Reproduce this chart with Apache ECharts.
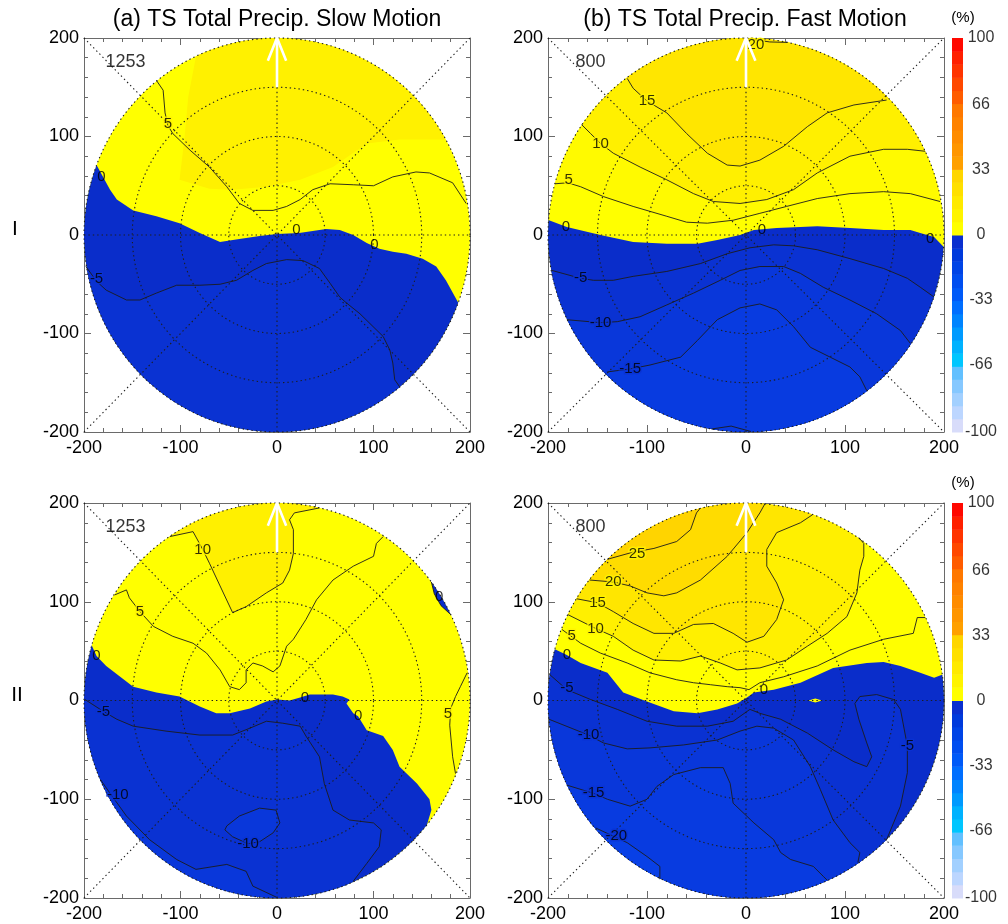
<!DOCTYPE html>
<html><head><meta charset="utf-8">
<script src="https://cdn.jsdelivr.net/npm/echarts@6/dist/echarts.min.js"></script>
<style>html,body{margin:0;padding:0;background:#fff}#c{width:1008px;height:924px}</style>
</head><body><div id="c"></div>
<script>
// ---------------- DATA ----------------
const axisTicks = [-200, -100, 0, 100, 200];
const ringRadii = [50, 100, 150, 200];
const cbTicks = [-100, -66, -33, 0, 33, 66, 100];
const cbEdges = [-100,-93.3,-86.7,-80,-73.3,-66.7,-60,-53.3,-46.7,-40,-33.3,-26.7,-20,-13.3,-6.7,0,6.7,13.3,20,26.7,33.3,40,46.7,53.3,60,66.7,73.3,80,86.7,93.3,100];
const cbColors = ['#d8dcfa','#bcd6ff','#a2d0ff','#86c8ff','#62c0ff',
                  '#00c6ff','#00b2ff','#009aff','#0084ff','#006eff',
                  '#005af8','#004ef0','#0044e6','#003adc','#0a2fcf',
                  '#ffff00','#fff400','#ffea00','#ffe000','#ffd600',
                  '#ffa000','#ff9600','#ff8c00','#ff8200','#ff7800',
                  '#ff5c00','#ff4800','#ff3400','#ff2000','#ff0800'];
const titles = ['(a) TS Total Precip. Slow Motion', '(b) TS Total Precip. Fast Motion'];
const rowNames = ['I', 'II'];
const stormCounts = ['1253', '800', '1253', '800'];
const countPos = [-157, 176];
const arrowShaft = [[0, 150], [0, 200]];
const arrowHead = [[-9.5, 177], [0, 200], [9.5, 177]];

// Panel I(a) slow motion
const IaZero = [[-187,71],[-173,46],[-166,36],[-149,25],[-125,19],[-101,12],[-80,2],[-59,-7],[-39,-4],[-18,-1],[0,1],[23,2],[51,6],[65,5],[79,0],[93,-8],[106,-14],[120,-17],[134,-19],[151,-24],[165,-32],[175,-46],[188,-69]];
const IaPos5 = [[-125,157],[-118,147],[-116,124],[-113,111],[-108,103],[-90,86],[-70,69],[-52,49],[-39,32],[-25,25],[-4,25],[10,29],[24,36],[37,46],[55,52],[79,51],[100,50],[120,59],[144,64],[158,63],[182,53],[196,32]];
const IaNeg5 = [[-198,-32],[-187,-47],[-177,-56],[-156,-66],[-142,-66],[-125,-59],[-104,-51],[-80,-51],[-59,-50],[-42,-46],[-25,-36],[-11,-29],[10,-25],[27,-26],[44,-34],[55,-49],[65,-63],[72,-69],[86,-80],[110,-103],[117,-117],[120,-130],[122,-147],[127,-154]];
const IaWarm = [[-84,181],[-92,140],[-96,97],[-101,56],[-70,47],[-46,46],[-11,49],[24,56],[58,69],[93,93],[127,97],[162,97],[175,97]];
const IaLabels = [['5',-113,113],['0',-182,59],['0',20,5],['0',101,-10],['-5',-187,-45]];

// Panel I(b) fast motion
const IbZero = [[-199,15],[-181,8],[-147,0],[-114,-7],[-80,-9],[-49,-9],[-29,-5],[-6,0],[8,5],[31,7],[55,8],[72,9],[105,7],[139,5],[166,5],[176,2],[190,-2],[199.5,-12]];
const IbPos5 = [[-193,52],[-180,53],[-167,49],[-144,39],[-114,29],[-80,19],[-60,13],[-39,12],[-13,15],[14,22],[41,29],[72,37],[105,42],[139,44],[166,42],[196,34]];
const IbPos10 = [[-166,112],[-157,103],[-147,93],[-134,83],[-107,69],[-80,56],[-53,42],[-33,34],[-6,32],[21,36],[48,46],[72,63],[105,80],[139,87],[163,87],[181,85]];
const IbPos15 = [[-120,159],[-114,149],[-100,136],[-80,124],[-60,103],[-39,83],[-19,71],[-6,70],[14,76],[38,90],[62,110],[82,124],[109,132],[142,137]];
const IbPos20 = [[-2,199.9],[24,196],[42,195.5]];
const IbNeg5 = [[-196,-36],[-167,-44],[-154,-46],[-134,-46],[-114,-42],[-80,-37],[-46,-29],[-19,-19],[4,-13],[28,-10],[48,-11],[72,-15],[105,-24],[139,-34],[163,-44],[176,-53],[190,-63]];
const IbNeg10 = [[-181,-86],[-147,-89],[-130,-88],[-107,-83],[-80,-71],[-53,-59],[-26,-46],[-6,-36],[14,-32],[38,-32],[55,-39],[78,-53],[105,-66],[132,-80],[156,-97],[166,-110]];
const IbNeg15 = [[-140,-139],[-117,-136],[-97,-132],[-66,-124],[-49,-107],[-29,-86],[-6,-74],[14,-70],[31,-76],[48,-93],[65,-114],[85,-124],[105,-134],[115,-144],[122,-158]];
const IbNeg20 = [[-35,-197],[-15,-194],[5,-199.5]];
const IbLabels = [['0',-182,8],['0',16,5],['0',186,-4],['5',-179,56],['10',-147,93],['15',-100,136],['20',10,193],['-5',-167,-44],['-10',-147,-89],['-15',-117,-136]];

// Panel II(a) slow motion
const IIaZero = [[-192,56],[-187,45],[-177,35],[-149,14],[-125,8],[-101,4],[-80,-6],[-63,-13],[-49,-13],[-28,-8],[-11,-1],[0,1],[13,0],[24,3],[34,6],[58,6],[68,4],[75,1],[72,-3],[79,-13],[84,-16],[93,-30],[110,-36],[120,-50],[127,-67],[145,-84],[158,-100],[160,-111],[155,-127]];
const IIaSliver = [[160,120],[163,108],[170,96],[180,87]];
const IIaPos5 = [[-168,107],[-156,112],[-153,104],[-142,90],[-128,75],[-108,65],[-87,58],[-73,48],[-59,31],[-49,14],[-39,11],[-32,18],[-32,31],[-25,38],[-15,35],[-4,29],[3,35],[10,55],[17,62],[30,82],[41,102],[58,122],[79,136],[100,146],[103,159],[110,166]];
const IIaPos5b = [[197,28],[190,14],[185,4],[180,-8],[179,-25],[182,-57],[185,-74]];
const IIaPos10 = [[-111,166],[-87,171],[-77,153],[-70,139],[-59,116],[-46,89],[-32,95],[-11,109],[6,119],[13,132],[17,149],[17,173],[13,183],[18,190],[44,195]];
const IIaNeg5 = [[-199,1],[-180,-11],[-166,-19],[-149,-26],[-115,-31],[-80,-35],[-46,-35],[-28,-28],[-11,-21],[6,-23],[24,-26],[30,-36],[44,-57],[49,-84],[58,-111],[75,-121],[100,-124],[108,-131],[106,-148],[93,-165],[79,-183]];
const IIaNeg10 = [[-183,-80],[-173,-94],[-156,-117],[-132,-141],[-104,-161],[-84,-171],[-52,-166],[-32,-173],[-25,-188],[-1,-199]];
const IIaNeg10b = [[-52,-127],[-39,-117],[-18,-109],[-1,-111],[3,-124],[-4,-134],[-18,-143],[-30,-145],[-46,-138],[-54,-131],[-52,-127]];
const IIaLabels = [['10',-77,153],['5',-142,90],['0',-187,45],['0',29,3],['0',84,-16],['0',168,105],['5',177,-14],['-5',-180,-11],['-10',-165,-96],['-10',-30,-145]];

// Panel II(b) fast motion
const IIbZero = [[-193,52],[-181,46],[-167,38],[-140,28],[-124,8],[-100,-1],[-73,-11],[-49,-13],[-29,-9],[-9,-3],[1,3],[8,8],[28,11],[55,18],[88,33],[122,38],[139,39],[156,35],[176,28],[190,23],[198,26]];
const IIbBlob = [[63,0],[70,2],[77,0],[70,-2]];
const IIbPos5 = [[-186,72],[-167,58],[-147,48],[-120,38],[-97,28],[-70,21],[-53,18],[-36,16],[-19,14],[-6,13],[3,11],[14,18],[38,24],[72,35],[105,51],[139,62],[169,68],[173,84],[181,84]];
const IIbPos10 = [[-180,87],[-152,73],[-134,65],[-114,51],[-93,41],[-66,40],[-46,45],[-26,38],[-9,31],[14,33],[41,41],[62,55],[82,68],[102,85],[112,109],[115,132],[119,146],[119,159],[114,165]];
const IIbPos15 = [[-171,103],[-150,99],[-134,90],[-114,78],[-93,68],[-73,68],[-53,77],[-33,78],[-13,68],[1,59],[18,65],[31,82],[38,102],[31,119],[21,136],[21,153],[31,170],[55,180],[67,188]];
const IIbPos20 = [[-158,122],[-134,120],[-117,116],[-100,109],[-83,106],[-70,109],[-46,122],[-19,146],[1,170],[14,190],[19,199]];
const IIbPos25 = [[-140,143],[-115,150],[-93,154],[-70,161],[-56,173],[-50,190],[-46,195]];
const IIbNeg5 = [[-198,26],[-181,11],[-157,1],[-130,-9],[-100,-21],[-70,-26],[-39,-26],[-13,-21],[4,-9],[14,-13],[35,-19],[62,-33],[88,-50],[109,-62],[122,-67],[127,-57],[122,-43],[114,-19],[110,-3],[115,4],[132,6],[149,1],[156,-9],[163,-46],[163,-73],[156,-107],[149,-124],[142,-141]];
const IIbNeg10 = [[-199,-19],[-159,-35],[-144,-43],[-120,-49],[-97,-48],[-63,-45],[-29,-40],[-6,-31],[11,-26],[28,-28],[48,-40],[65,-67],[75,-90],[88,-121],[105,-144],[115,-154],[113,-164]];
const IIbNeg15 = [[-180,-86],[-154,-94],[-140,-100],[-117,-107],[-100,-100],[-90,-87],[-73,-75],[-46,-68],[-23,-68],[-16,-84],[-13,-104],[8,-124],[28,-141],[35,-154],[45,-161],[68,-168],[78,-178],[82,-182]];
const IIbNeg20 = [[-152,-129],[-137,-136],[-120,-144],[-100,-158],[-87,-168],[-87,-181]];
const IIbLabels = [['25',-110,148],['20',-134,120],['15',-150,99],['10',-152,73],['5',-176,65],['0',-181,46],['0',18,11],['-5',-181,13],['-10',-159,-35],['-15',-154,-94],['-20',-131,-137],['-5',163,-46]];

// ---------------- STYLE / LAYOUT ----------------
const FONT = '"Liberation Sans", Arial, Helvetica, sans-serif';
const YELLOW = '#ffff00', BLUE = '#0a2dca';
const AXC = '#6a6a6a';
const shade = {5:'#fffa00', 10:'#fff000', 15:'#ffe600', 20:'#ffdc00', 25:'#ffd400',
               '-5':'#0a32d2', '-10':'#0937da', '-15':'#083be0', '-20':'#0840e6'};

const panels = [
  {grid:{left:84, top:38, width:386, height:394}, zero:IaZero, blueExtra:[], yellowExtra:[],
   contours:[IaPos5, IaNeg5], loops:[],
   shades:[[IaWarm,90,'#fff100'],[IaNeg5,-90,shade['-5']]], labels:IaLabels},
  {grid:{left:548, top:38, width:396, height:394}, zero:IbZero, blueExtra:[], yellowExtra:[],
   contours:[IbPos5, IbPos10, IbPos15, IbPos20, IbNeg5, IbNeg10, IbNeg15, IbNeg20], loops:[],
   shades:[[IbPos5,90,shade[5]],[IbPos10,90,shade[10]],[IbPos15,90,shade[15]],
           [IbNeg5,-90,shade['-5']],[IbNeg10,-90,shade['-10']],[IbNeg15,-90,shade['-15']]], labels:IbLabels},
  {grid:{left:84, top:503, width:386, height:395}, zero:IIaZero, blueExtra:[[IIaSliver,31]], yellowExtra:[],
   contours:[IIaPos5, IIaPos5b, IIaPos10, IIaNeg5, IIaNeg10, IIaNeg10b, IIaSliver], loops:[IIaNeg10b],
   shades:[[IIaPos10,90,shade[10]],[IIaNeg5,-135,shade['-5']],[IIaNeg10,-120,shade['-10']]], labels:IIaLabels},
  {grid:{left:548, top:503, width:396, height:395}, zero:IIbZero, blueExtra:[], yellowExtra:[IIbBlob],
   contours:[IIbPos5, IIbPos10, IIbPos15, IIbPos20, IIbPos25, IIbNeg5, IIbNeg10, IIbNeg15, IIbNeg20], loops:[],
   shades:[[IIbPos10,100,shade[10]],[IIbPos15,100,shade[15]],[IIbPos20,110,shade[20]],[IIbPos25,120,shade[25]],
           [IIbNeg5,-90,shade['-5']],[IIbNeg10,-90,shade['-10']],[IIbNeg15,-110,shade['-15']],[IIbNeg20,-128,shade['-20']]], labels:IIbLabels}
];

// ---------------- GEOMETRY HELPERS ----------------
const TW = Math.PI * 2;
const mod = v => ((v % TW) + TW) % TW;
function circlePts(r) { const a = []; for (let i = 0; i <= 240; i++) { const t = TW * i / 240; a.push([r * Math.cos(t), r * Math.sin(t)]); } return a; }
function closeOnCircle(line, refDeg) {
  const s = line[0], e = line[line.length - 1];
  const as = Math.atan2(s[1], s[0]), ae = Math.atan2(e[1], e[0]);
  const ref = refDeg * Math.PI / 180;
  const ccw = mod(as - ae);
  let dir, sweep;
  if (mod(ref - ae) < ccw) { dir = 1; sweep = ccw; } else { dir = -1; sweep = TW - ccw; }
  const n = Math.max(2, Math.ceil(sweep / (Math.PI / 120)));
  const pts = line.slice();
  for (let i = 0; i <= n; i++) { const t = ae + dir * sweep * i / n; pts.push([200 * Math.cos(t), 200 * Math.sin(t)]); }
  return pts;
}

// ---------------- BUILD OPTION ----------------
const grids = [], xAxes = [], yAxes = [], series = [];
function mkAxis(gi, pos, showLabel, isX) {
  return {gridIndex: gi, type: 'value', min: -200, max: 200, interval: 100, position: pos,
    axisLine: {show: true, onZero: false, lineStyle: {color: AXC, width: 1}},
    axisTick: {show: true, inside: true, length: 7, lineStyle: {color: AXC}},
    minorTick: {show: true, splitNumber: 5, length: 4, lineStyle: {color: AXC}},
    splitLine: {show: false}, minorSplitLine: {show: false},
    axisLabel: {show: showLabel, fontSize: 18, color: '#000', fontFamily: FONT, margin: isX ? 7 : 5,
      customValues: axisTicks}
  };
}

panels.forEach((P, i) => {
  grids.push(P.grid);
  xAxes.push(mkAxis(i, 'bottom', true, true), mkAxis(i, 'top', false, true));
  yAxes.push(mkAxis(i, 'left', true, false), mkAxis(i, 'right', false, false));
  const xi = 2 * i, yi = 2 * i;
  const poly = (pts, fill, z) => series.push({type: 'custom', xAxisIndex: xi, yAxisIndex: yi, z, silent: true, clip: false,
    data: [[0, 0]], renderItem: (p, api) => ({type: 'polygon', shape: {points: pts.map(q => api.coord(q))}, style: {fill: fill}})});

  poly(circlePts(200), YELLOW, 1);
  P.shades.filter(s => s[1] > 0).forEach(s => poly(closeOnCircle(s[0], s[1]), s[2], 2));
  poly(closeOnCircle(P.zero, -90), BLUE, 3);
  P.blueExtra.forEach(b => poly(closeOnCircle(b[0], b[1]), BLUE, 3));
  P.shades.filter(s => s[1] < 0).forEach(s => poly(closeOnCircle(s[0], s[1]), s[2], 4));
  P.loops.forEach(l => poly(l, shade['-10'], 4));
  P.yellowExtra.forEach(b => poly(b, YELLOW, 4));

  // guide rings and radials (dotted)
  series.push({type: 'custom', xAxisIndex: xi, yAxisIndex: yi, z: 5, silent: true, clip: false, data: [[0, 0]],
    renderItem: (p, api) => {
      const st = {stroke: '#1e1e1e', lineWidth: 1.1, lineDash: [1.4, 3], fill: null};
      const kids = ringRadii.map(r => ({type: 'polyline', shape: {points: circlePts(r).map(q => api.coord(q))}, style: st}));
      [[[-200,-200],[200,200]], [[-200,200],[200,-200]], [[0,-200],[0,200]], [[-200,0],[200,0]]].forEach(seg =>
        kids.push({type: 'polyline', shape: {points: seg.map(q => api.coord(q))}, style: st}));
      return {type: 'group', children: kids};
    }});

  // contour lines
  P.contours.forEach(c => series.push({type: 'line', xAxisIndex: xi, yAxisIndex: yi, data: c, showSymbol: false, symbol: 'none',
    silent: true, z: 6, lineStyle: {color: '#1c1c1c', width: 0.9}}));

  // contour labels
  series.push({type: 'scatter', xAxisIndex: xi, yAxisIndex: yi, z: 7, silent: true, symbolSize: 1,
    itemStyle: {color: 'rgba(0,0,0,0)'},
    data: P.labels.map(l => {
      const v = Number(l[0]);
      const bc = v > 0 ? '#fff400' : (v < 0 ? '#0a32d2' : null);
      return {name: l[0], value: [l[1], l[2]], label: bc ? {textBorderColor: bc, textBorderWidth: 3} : {textBorderWidth: 0}};
    }),
    label: {show: true, position: 'inside', formatter: '{b}', fontSize: 15, color: '#000', fontFamily: FONT}});

  // white arrow (storm motion)
  series.push({type: 'custom', xAxisIndex: xi, yAxisIndex: yi, z: 8, silent: true, clip: false, data: [[0, 0]],
    renderItem: (p, api) => ({type: 'group', children: [
      {type: 'polyline', shape: {points: arrowShaft.map(q => api.coord(q))}, style: {stroke: '#fff', lineWidth: 2.6, fill: null}},
      {type: 'polyline', shape: {points: arrowHead.map(q => api.coord(q))}, style: {stroke: '#fff', lineWidth: 2.6, fill: null}}]})});

  // sample count
  series.push({type: 'scatter', xAxisIndex: xi, yAxisIndex: yi, z: 8, silent: true, symbolSize: 1, itemStyle: {color: 'rgba(0,0,0,0)'},
    data: [{name: stormCounts[i], value: countPos}],
    label: {show: true, position: 'inside', formatter: '{b}', fontSize: 18, color: '#000', fontFamily: FONT}});
});

// colour bars
[{left: 952, top: 38, width: 11, height: 394}, {left: 952, top: 503, width: 11, height: 395}].forEach((g, k) => {
  const gi = 4 + k;
  grids.push(g);
  xAxes.push({gridIndex: gi, type: 'value', min: 0, max: 1, show: false});
  yAxes.push({gridIndex: gi, type: 'value', min: -100, max: 100, show: false});
  series.push({type: 'custom', xAxisIndex: 8 + k, yAxisIndex: 8 + k, z: 2, silent: true, clip: false,
    data: cbColors.map((c, j) => [cbEdges[j], cbEdges[j + 1], j]),
    encode: {x: -1, y: [0, 1]},
    renderItem: (p, api) => {
      const lo = api.value(0), hi = api.value(1), j = api.value(2);
      const a = api.coord([0, hi]), b = api.coord([1, lo]);
      return {type: 'rect', shape: {x: a[0], y: a[1], width: b[0] - a[0], height: b[1] - a[1] + 0.5}, style: {fill: cbColors[j]}};
    }});
  series.push({type: 'scatter', xAxisIndex: 8 + k, yAxisIndex: 8 + k, z: 3, silent: true, symbolSize: 1, itemStyle: {color: 'rgba(0,0,0,0)'},
    data: cbTicks.map(v => [1, v]),
    label: {show: true, position: 'inside', offset: [18, 0], align: 'center', formatter: p => String(p.value[1]), fontSize: 16, color: '#000', fontFamily: FONT}});
});

const graphic = [
  {type: 'text', x: 277, y: 20, style: {text: titles[0], font: '23px ' + FONT, fill: '#000', align: 'center', verticalAlign: 'middle'}},
  {type: 'text', x: 745, y: 20, style: {text: titles[1], font: '23px ' + FONT, fill: '#000', align: 'center', verticalAlign: 'middle'}},
  {type: 'text', x: 15, y: 229, style: {text: rowNames[0], font: '21px ' + FONT, fill: '#000', align: 'center', verticalAlign: 'middle'}},
  {type: 'text', x: 17, y: 695, style: {text: rowNames[1], font: '21px ' + FONT, fill: '#000', align: 'center', verticalAlign: 'middle'}},
  {type: 'text', x: 963, y: 18, style: {text: '(%)', font: '15px ' + FONT, fill: '#000', align: 'center', verticalAlign: 'middle'}},
  {type: 'text', x: 963, y: 483, style: {text: '(%)', font: '15px ' + FONT, fill: '#000', align: 'center', verticalAlign: 'middle'}}
];

const chart = echarts.init(document.getElementById('c'), null, {renderer: 'canvas'});
chart.setOption({animation: false, backgroundColor: '#fff', textStyle: {fontFamily: FONT},
  grid: grids, xAxis: xAxes, yAxis: yAxes, series: series, graphic: graphic});
</script></body></html>
